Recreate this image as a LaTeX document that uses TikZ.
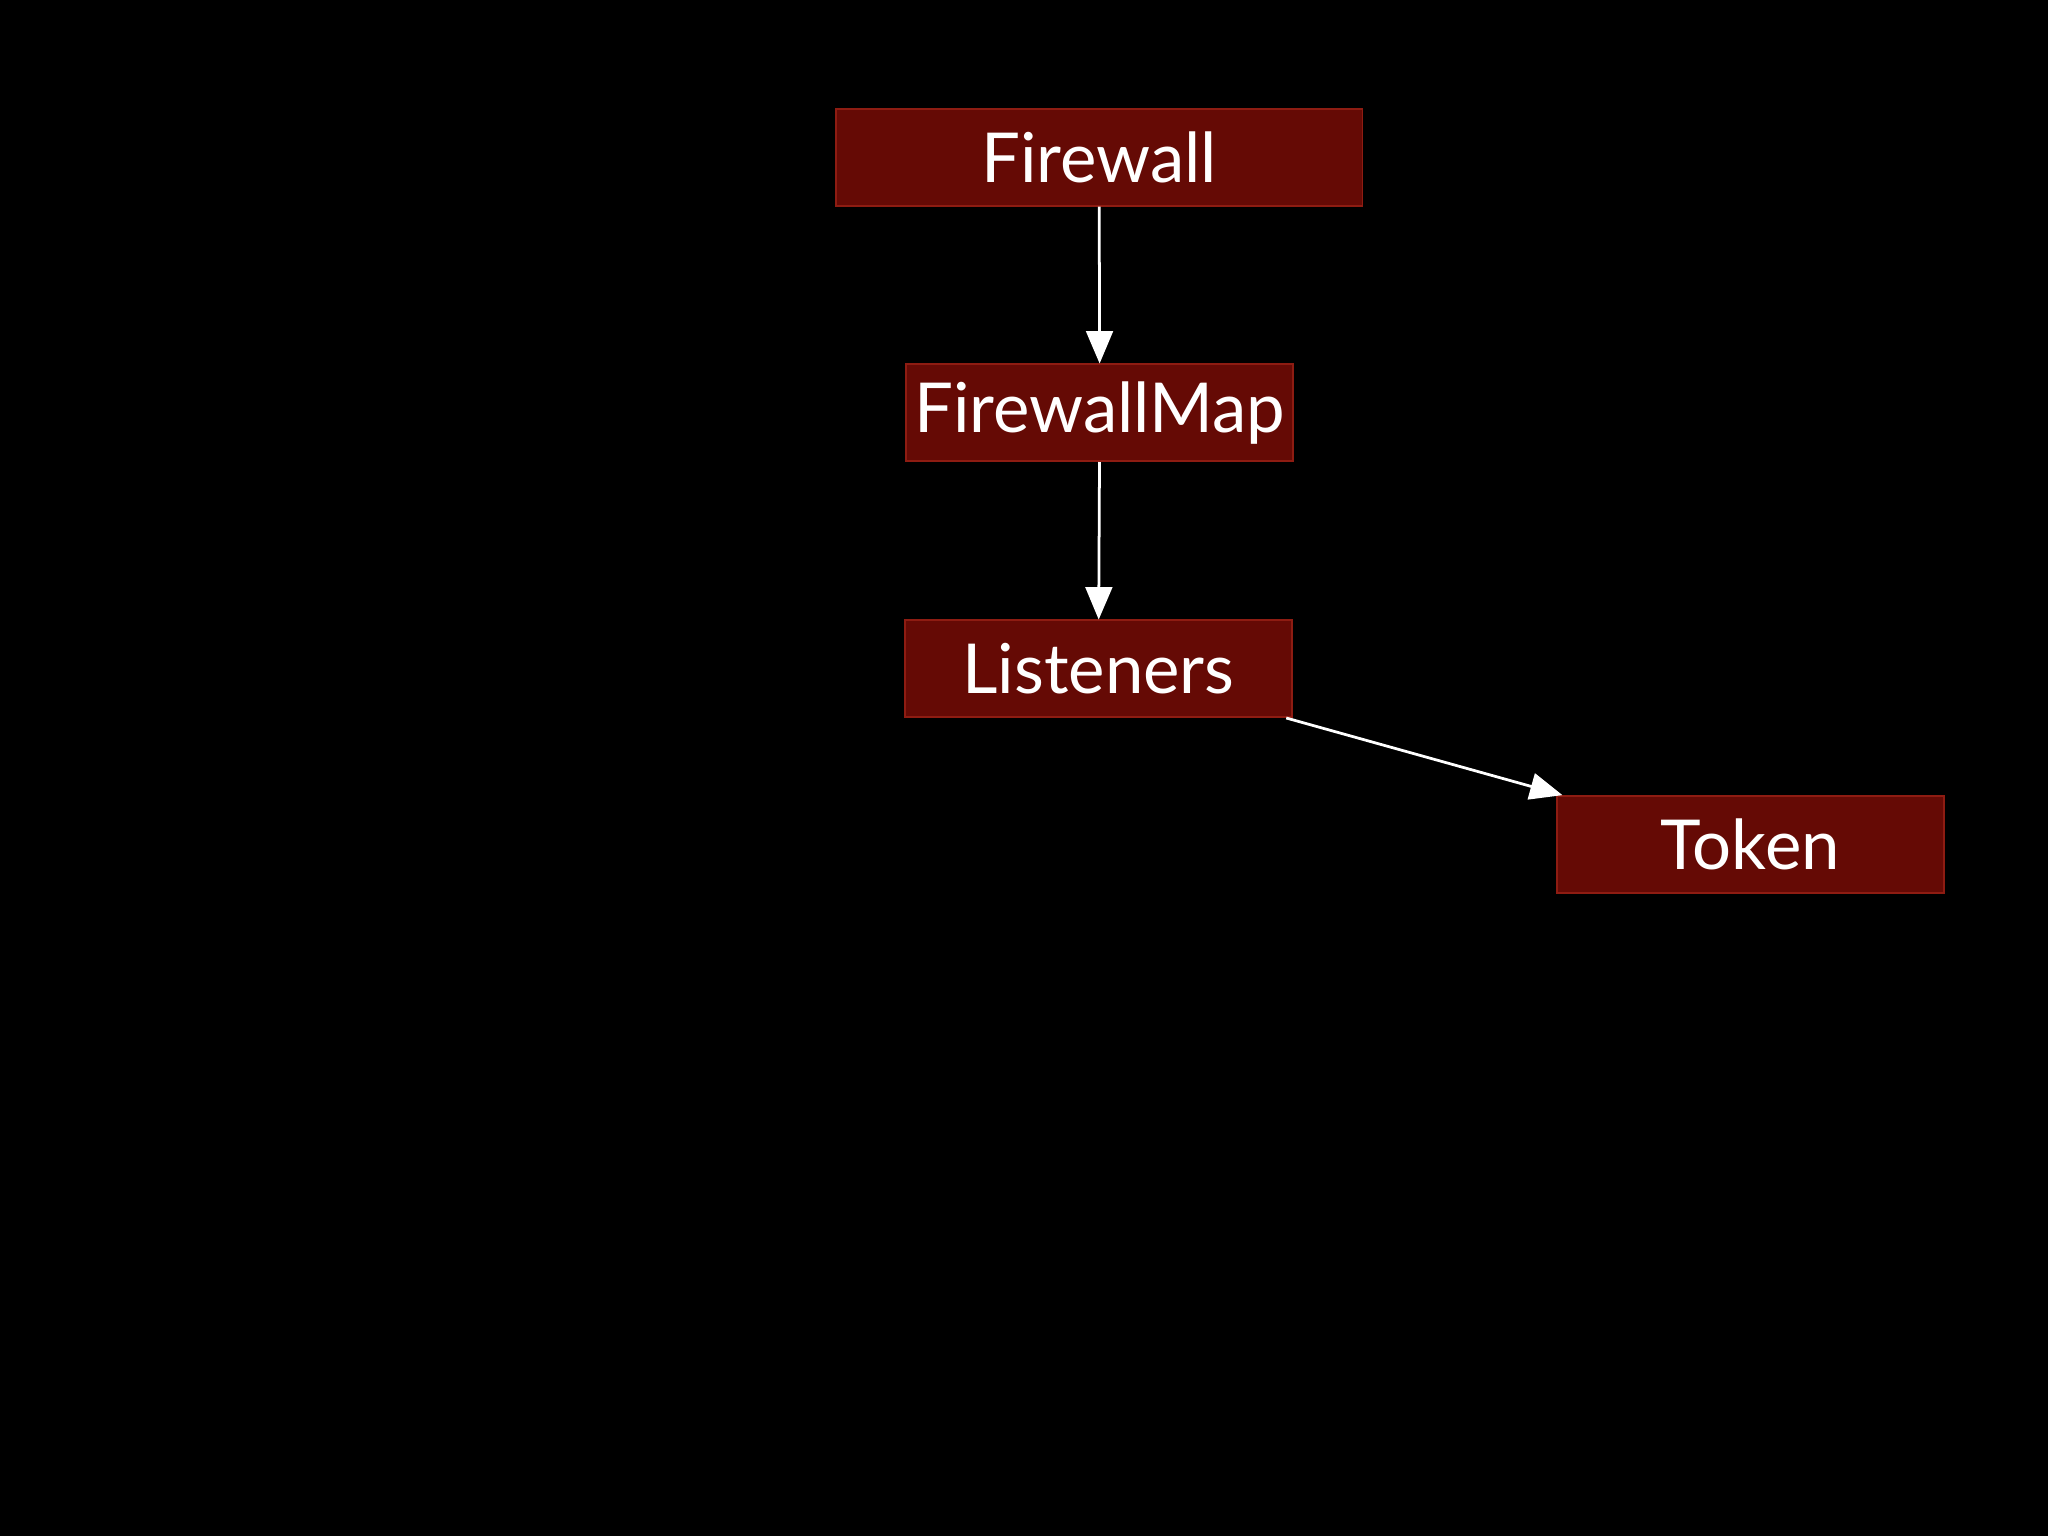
\documentclass[tikz,border=0pt]{standalone}
\usepackage{fontspec}
\setmainfont{Lato}
\usetikzlibrary{arrows}
\definecolor{boxred}{HTML}{650A05}
\definecolor{edgered}{HTML}{8E1C12}
\tikzstyle{block} = [rectangle, minimum height=0.74cm, inner sep=0pt, text centered, draw=edgered, fill=boxred, text=white, font=\fontsize{15}{18}\selectfont]
\tikzstyle{arrow} = [white, semithick, ->, >=triangle 45]
\begin{document}
\begin{tikzpicture}[x=0.01cm,y=-0.01cm]
\fill[black] (0,0) rectangle (1568,1176);
\node (fw) [block, minimum width=4.03cm] at (841.5,120.5) {Firewall};
\node (fwmap) [block, minimum width=2.96cm] at (842,316) {FirewallMap};
\node (listen) [block, minimum width=2.96cm] at (841,512) {Listeners};
\node (token) [block, minimum width=2.96cm] at (1340,646.5) {Token};
\draw [arrow] (fw) -- (fwmap);
\draw [arrow] (fwmap) -- (listen);
\draw [arrow] ([xshift=-0.05cm]listen.south east) -- ([xshift=0.05cm]token.north west);
\end{tikzpicture}
\end{document}
